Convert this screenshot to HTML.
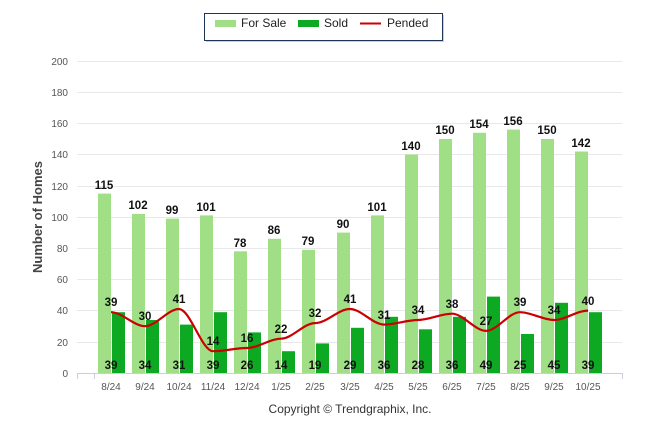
<!DOCTYPE html>
<html><head><style>body{margin:0;background:#fff}svg{display:block}text{font-family:"Liberation Sans",Arial,sans-serif}</style></head><body>
<svg width="646" height="434" viewBox="0 0 646 434" xmlns="http://www.w3.org/2000/svg">
<rect x="206" y="15" width="238" height="27" fill="#888" opacity="0.4"/>
<rect x="204.5" y="13.5" width="238" height="27" fill="#fff" stroke="#1f3558" stroke-width="1"/>
<rect x="215" y="20" width="21" height="7" fill="#a0df86"/>
<text x="241" y="27" font-size="12" fill="#222">For Sale</text>
<rect x="298" y="20" width="21" height="7" fill="#0ea923"/>
<text x="324" y="27" font-size="12" fill="#222">Sold</text>
<line x1="360" y1="23.5" x2="381" y2="23.5" stroke="#cc0000" stroke-width="2"/>
<text x="387" y="27" font-size="12" fill="#222">Pended</text>
<g stroke="#e8e8e8" stroke-width="1">
<line x1="77" y1="61.5" x2="622" y2="61.5"/><line x1="77" y1="92.5" x2="622" y2="92.5"/><line x1="77" y1="123.5" x2="622" y2="123.5"/><line x1="77" y1="154.5" x2="622" y2="154.5"/><line x1="77" y1="186.5" x2="622" y2="186.5"/><line x1="77" y1="217.5" x2="622" y2="217.5"/><line x1="77" y1="248.5" x2="622" y2="248.5"/><line x1="77" y1="279.5" x2="622" y2="279.5"/><line x1="77" y1="310.5" x2="622" y2="310.5"/><line x1="77" y1="342.5" x2="622" y2="342.5"/>
</g>
<line x1="77" y1="373.5" x2="622" y2="373.5" stroke="#ccd" stroke-width="1"/>
<g stroke="#ccd"><line x1="77.5" y1="373" x2="77.5" y2="379"/><line x1="94.5" y1="373" x2="94.5" y2="379"/><line x1="622.5" y1="373" x2="622.5" y2="379"/></g>
<g font-size="10" fill="#555" text-anchor="end">
<text x="68" y="65">200</text><text x="68" y="96">180</text><text x="68" y="127">160</text><text x="68" y="158">140</text><text x="68" y="190">120</text><text x="68" y="221">100</text><text x="68" y="252">80</text><text x="68" y="283">60</text><text x="68" y="314">40</text><text x="68" y="346">20</text><text x="68" y="377">0</text>
</g>
<text transform="translate(42,217) rotate(-90)" font-size="13" font-weight="bold" fill="#444" text-anchor="middle">Number of Homes</text>
<g fill="#a0df86">
<rect x="98" y="193.6" width="13" height="179.4"/><rect x="132" y="213.9" width="13" height="159.1"/><rect x="166" y="218.6" width="13" height="154.4"/><rect x="200" y="215.4" width="13" height="157.6"/><rect x="234" y="251.3" width="13" height="121.7"/><rect x="268" y="238.8" width="13" height="134.2"/><rect x="302" y="249.8" width="13" height="123.2"/><rect x="337" y="232.6" width="13" height="140.4"/><rect x="371" y="215.4" width="13" height="157.6"/><rect x="405" y="154.6" width="13" height="218.4"/><rect x="439" y="139" width="13" height="234"/><rect x="473" y="132.8" width="13" height="240.2"/><rect x="507" y="129.6" width="13" height="243.4"/><rect x="541" y="139" width="13" height="234"/><rect x="575" y="151.5" width="13" height="221.5"/>
</g>
<g fill="#0ea923">
<rect x="112" y="312.2" width="13" height="60.8"/><rect x="146" y="320" width="13" height="53"/><rect x="180" y="324.6" width="13" height="48.4"/><rect x="214" y="312.2" width="13" height="60.8"/><rect x="248" y="332.4" width="13" height="40.6"/><rect x="282" y="351.2" width="13" height="21.8"/><rect x="316" y="343.4" width="13" height="29.6"/><rect x="351" y="327.8" width="13" height="45.2"/><rect x="385" y="316.8" width="13" height="56.2"/><rect x="419" y="329.3" width="13" height="43.7"/><rect x="453" y="316.8" width="13" height="56.2"/><rect x="487" y="296.6" width="13" height="76.4"/><rect x="521" y="334" width="13" height="39"/><rect x="555" y="302.8" width="13" height="70.2"/><rect x="589" y="312.2" width="13" height="60.8"/>
</g>
<path fill="none" stroke="#cc0000" stroke-width="2.2" d="M111,312.2 C122,312.2 134,326.2 145,326.2 C156,326.2 168,309 179,309 C190,309 202,351.2 213,351.2 C224,351.2 236,348 247,348 C258,348 270,338.7 281,338.7 C292,338.7 304,323.1 315,323.1 C327,323.1 338,309 350,309 C361,309 373,324.6 384,324.6 C395,324.6 407,320 418,320 C429,320 441,313.7 452,313.7 C463,313.7 475,330.9 486,330.9 C497,330.9 509,312.2 520,312.2 C531,312.2 543,320 554,320 C565,320 577,310.6 588,310.6"/>
<g font-size="11.5" font-weight="bold" fill="#111" text-anchor="middle">
<text x="104" y="189">115</text><text x="138" y="209">102</text><text x="172" y="214">99</text><text x="206" y="211">101</text><text x="240" y="247">78</text><text x="274" y="234">86</text><text x="308" y="245">79</text><text x="343" y="228">90</text><text x="377" y="211">101</text><text x="411" y="150">140</text><text x="445" y="134">150</text><text x="479" y="128">154</text><text x="513" y="125">156</text><text x="547" y="134">150</text><text x="581" y="147">142</text>
</g>
<g font-size="11.5" fill="#111" text-anchor="middle" font-weight="bold">
<text x="111" y="306">39</text><text x="145" y="320">30</text><text x="179" y="303">41</text><text x="213" y="345">14</text><text x="247" y="342">16</text><text x="281" y="333">22</text><text x="315" y="317">32</text><text x="350" y="303">41</text><text x="384" y="319">31</text><text x="418" y="314">34</text><text x="452" y="308">38</text><text x="486" y="325">27</text><text x="520" y="306">39</text><text x="554" y="314">34</text><text x="588" y="305">40</text>
</g>
<g font-size="11.5" fill="#111" text-anchor="middle" font-weight="bold">
<text x="111" y="369">39</text><text x="145" y="369">34</text><text x="179" y="369">31</text><text x="213" y="369">39</text><text x="247" y="369">26</text><text x="281" y="369">14</text><text x="315" y="369">19</text><text x="350" y="369">29</text><text x="384" y="369">36</text><text x="418" y="369">28</text><text x="452" y="369">36</text><text x="486" y="369">49</text><text x="520" y="369">25</text><text x="554" y="369">45</text><text x="588" y="369">39</text>
</g>
<g font-size="10" fill="#555" text-anchor="middle">
<text x="111" y="390">8/24</text><text x="145" y="390">9/24</text><text x="179" y="390">10/24</text><text x="213" y="390">11/24</text><text x="247" y="390">12/24</text><text x="281" y="390">1/25</text><text x="315" y="390">2/25</text><text x="350" y="390">3/25</text><text x="384" y="390">4/25</text><text x="418" y="390">5/25</text><text x="452" y="390">6/25</text><text x="486" y="390">7/25</text><text x="520" y="390">8/25</text><text x="554" y="390">9/25</text><text x="588" y="390">10/25</text>
</g>
<text x="350" y="413" font-size="12" fill="#333" text-anchor="middle">Copyright © Trendgraphix, Inc.</text>
</svg>
</body></html>
